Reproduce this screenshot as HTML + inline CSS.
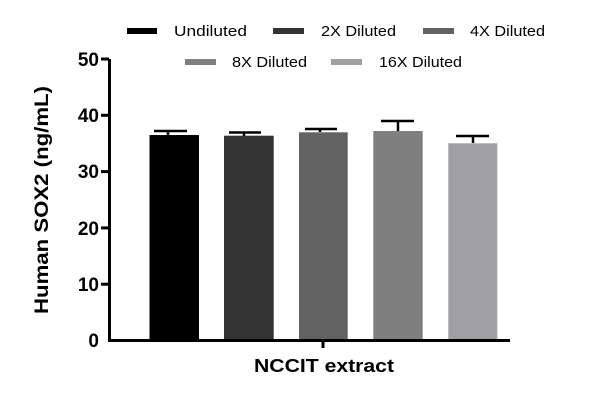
<!DOCTYPE html>
<html><head><style>body{margin:0;background:#fff}</style></head><body>
<svg width="600" height="400" xmlns="http://www.w3.org/2000/svg" font-family="Liberation Sans, sans-serif">
<rect width="600" height="400" fill="#fff"/>
<g font-size="15" fill="#000">
<rect x="127" y="28" width="30" height="6" fill="#000"/><text x="174" y="36" textLength="73" lengthAdjust="spacingAndGlyphs">Undiluted</text>
<rect x="273" y="28" width="31" height="6" fill="#333"/><text x="321" y="36" textLength="75" lengthAdjust="spacingAndGlyphs">2X Diluted</text>
<rect x="423" y="28" width="31" height="6" fill="#626262"/><text x="470" y="36" textLength="75" lengthAdjust="spacingAndGlyphs">4X Diluted</text>
<rect x="185" y="59" width="31" height="6" fill="#7f7f7f"/><text x="232" y="67" textLength="75" lengthAdjust="spacingAndGlyphs">8X Diluted</text>
<rect x="331" y="59" width="31" height="6" fill="#a0a0a2"/><text x="379" y="67" textLength="83" lengthAdjust="spacingAndGlyphs">16X Diluted</text>
</g>
<g fill="none" stroke="#000" stroke-width="2.5">
<line x1="168" y1="135" x2="168" y2="131"/><line x1="154" y1="131" x2="187" y2="131"/>
<line x1="244" y1="136" x2="244" y2="132.5"/><line x1="229" y1="132.5" x2="261" y2="132.5"/>
<line x1="320" y1="132" x2="320" y2="129"/><line x1="305" y1="129" x2="337" y2="129"/>
<line x1="398" y1="131" x2="398" y2="121"/><line x1="381" y1="121" x2="414" y2="121"/>
<line x1="473" y1="143" x2="473" y2="136"/><line x1="456" y1="136" x2="489" y2="136"/>
</g>
<rect x="149.5" y="135" width="49.5" height="205" fill="#000"/>
<rect x="224" y="135.7" width="49.7" height="204.3" fill="#333"/>
<rect x="299" y="132.3" width="48.7" height="207.7" fill="#626262"/>
<rect x="373.3" y="131" width="49.4" height="209" fill="#7f7f7f"/>
<rect x="448.3" y="143.3" width="49" height="196.7" fill="#a0a0a2"/>
<g stroke="#000" stroke-width="3">
<line x1="109.5" y1="59" x2="109.5" y2="341.5"/>
<line x1="108" y1="340.5" x2="510" y2="340.5"/>
<line x1="101" y1="59" x2="109" y2="59"/>
<line x1="101" y1="115.3" x2="109" y2="115.3"/>
<line x1="101" y1="171.6" x2="109" y2="171.6"/>
<line x1="101" y1="227.9" x2="109" y2="227.9"/>
<line x1="101" y1="284.2" x2="109" y2="284.2"/>
<line x1="323" y1="340" x2="323" y2="348"/>
</g>
<g font-size="19" font-weight="bold" text-anchor="end">
<text x="99" y="66">50</text><text x="99" y="122">40</text><text x="99" y="178">30</text>
<text x="99" y="235">20</text><text x="99" y="291">10</text><text x="99" y="347">0</text>
</g>
<text x="254" y="372" font-size="18" font-weight="bold" textLength="140" lengthAdjust="spacingAndGlyphs">NCCIT extract</text>
<text transform="translate(48,200) rotate(-90)" font-size="19" font-weight="bold" text-anchor="middle" textLength="228" lengthAdjust="spacingAndGlyphs">Human SOX2 (ng/mL)</text>
</svg>
</body></html>
